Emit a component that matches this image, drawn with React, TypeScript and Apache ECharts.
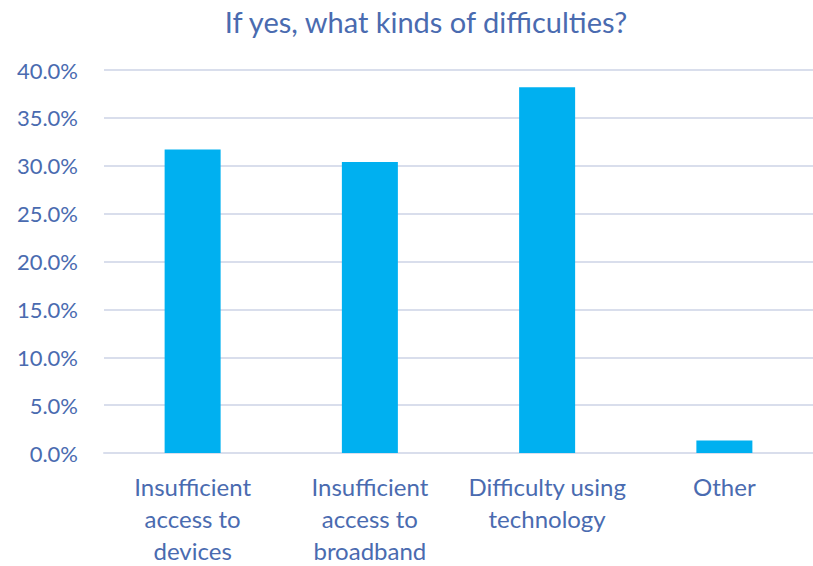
import React, { useEffect, useRef } from "react";
import * as echarts from "echarts";

const categories = [
  "Insufficient\naccess to\ndevices",
  "Insufficient\naccess to\nbroadband",
  "Difficulty using\ntechnology",
  "Other",
];
const values = [31.7, 30.4, 38.2, 1.3];
const titleText = "If yes, what kinds of difficulties?";

const FONT = "Lato, 'Open Sans', sans-serif";
const TEXT_COLOR = "#4A6BB0";

export default function App() {
  const ref = useRef<HTMLDivElement>(null);
  useEffect(() => {
    if (!ref.current) return;
    const chart = echarts.init(ref.current, null, { renderer: "svg" });
    chart.setOption({
      animation: false,
      backgroundColor: "#ffffff",
      title: {
        text: titleText,
        left: 421,
        textAlign: "center",
        top: 2,
        textStyle: {
          fontFamily: FONT,
          fontSize: 29,
          fontWeight: "normal",
          color: TEXT_COLOR,
        },
      },
      grid: { left: 104, top: 70, right: -4, height: 385, containLabel: false },
      xAxis: {
        type: "category",
        data: categories,
        axisLine: { show: true, lineStyle: { color: "#D9DEEC", width: 2 } },
        axisTick: { show: false },
        axisLabel: {
          fontFamily: FONT,
          fontSize: 24,
          color: TEXT_COLOR,
          lineHeight: 32,
          margin: 17,
          interval: 0,
        },
      },
      yAxis: {
        type: "value",
        min: 0,
        max: 40,
        interval: 5,
        axisLine: { show: false },
        axisTick: { show: false },
        splitLine: { lineStyle: { color: "#D9DEEC", width: 2 } },
        axisLabel: {
          fontFamily: FONT,
          fontSize: 22,
          color: TEXT_COLOR,
          margin: 26,
          formatter: (v: number) => v.toFixed(1) + "%",
        },
      },
      series: [
        {
          type: "bar",
          data: values,
          barWidth: 56,
          itemStyle: { color: "#00B0F0" },
        },
      ],
    });
    return () => chart.dispose();
  }, []);
  return <div ref={ref} style={{ width: 813, height: 566, position: "absolute", left: 0, top: 0 }} />;
}
